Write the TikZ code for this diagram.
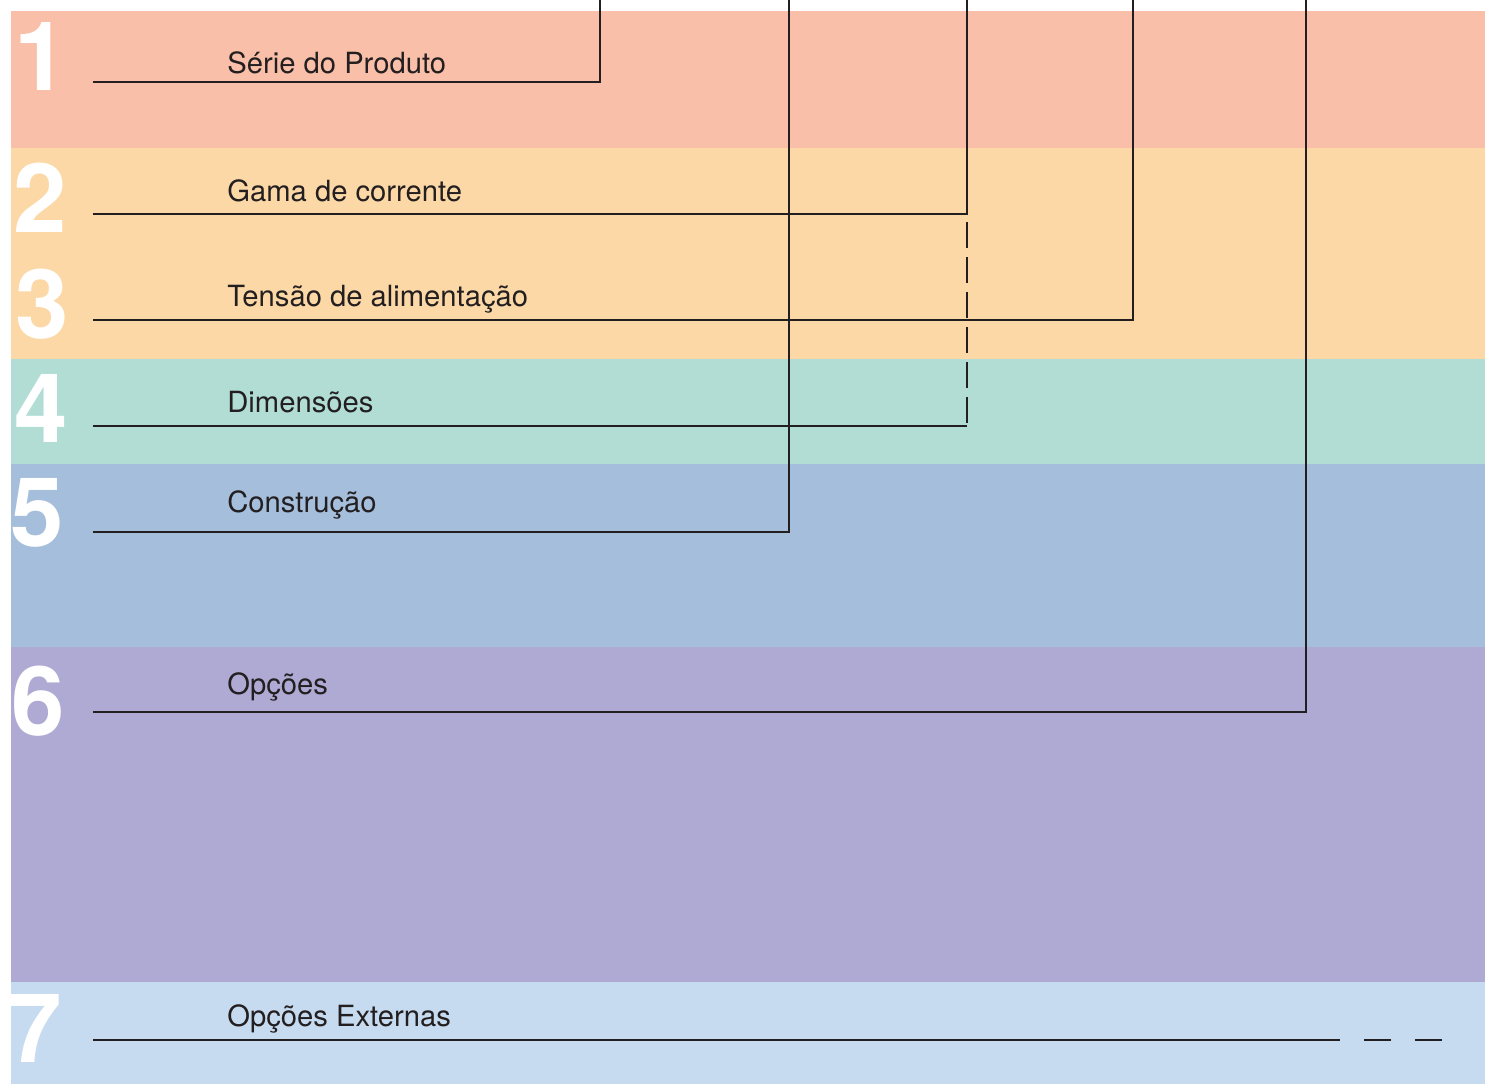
\documentclass[tikz,border=0pt]{standalone}
\usepackage{fontspec}
\setmainfont{TeX Gyre Heros}
\usepackage{tikz}
\usetikzlibrary{positioning}
\usepackage{xcolor}
\definecolor{ink}{HTML}{231F20}
\definecolor{bandA}{HTML}{F9BFA8}
\definecolor{bandB}{HTML}{FDD8A7}
\definecolor{bandC}{HTML}{B1DDD5}
\definecolor{bandD}{HTML}{A4BEDC}
\definecolor{bandE}{HTML}{AFAAD3}
\definecolor{bandF}{HTML}{C6DBEF}

\begin{document}
\begin{tikzpicture}[x=0.5pt, y=-0.5pt]
    \tikzset{Number/.style={anchor=base, inner sep=0, text=white, font=\fontsize{48}{48}\selectfont\bfseries}};
    \tikzset{Label/.style={anchor=base west, inner sep=0, text=ink, font=\fontsize{14.6}{14.6}\selectfont}};
    \tikzset{Lead/.style={draw=ink, line width=1.3pt}};
    \tikzset{Hidden/.style={Lead, dash pattern=on 13pt off 4.5pt, dash phase=13.5pt}};

    \useasboundingbox (0,0) rectangle (1485,1084);
    \fill[bandA] (11,11) rectangle (1485,148);
    \fill[bandB] (11,148) rectangle (1485,359);
    \fill[bandC] (11,359) rectangle (1485,464);
    \fill[bandD] (11,464) rectangle (1485,647);
    \fill[bandE] (11,647) rectangle (1485,982);
    \fill[bandF] (11,982) rectangle (1485,1084);

    \node[Number](n1) at (41,90){1};
    \node[Number](n2) at (40,232){2};
    \node[Number](n3) at (42,338){3};
    \node[Number](n4) at (41,442){4};
    \node[Number](n5) at (37,546){5};
    \node[Number](n6) at (38,735){6};
    \node[Number](n7) at (35,1062){7};

    \node[Label](a) at (227,73){Série do Produto};
    \node[Label](b) at (227,201){Gama de corrente};
    \node[Label](c) at (227,306){Tensão de alimentação};
    \node[Label](d) at (227,412){Dimensões};
    \node[Label](e) at (227,512){Construção};
    \node[Label](f) at (227,694){Opções};
    \node[Label](g) at (227,1026){Opções Externas};

    \coordinate (sa) at (93,82);
    \coordinate (sb) at (93,214);
    \coordinate (sc) at (93,320);
    \coordinate (sd) at (93,426);
    \coordinate (se) at (93,532);
    \coordinate (sf) at (93,712);
    \coordinate (sg) at (93,1040);

    \coordinate (ta) at (600,0);
    \coordinate (tb) at (967,0);
    \coordinate (tc) at (1133,0);
    \coordinate (te) at (789,0);
    \coordinate (tf) at (1306,0);

    \coordinate (eb) at (967,214);
    \coordinate (ed) at (967,426);
    \coordinate (eg) at (1313,1040);
    \coordinate (fg) at (1442,1040);

    \draw[Lead] (sa) -| (ta);
    \draw[Lead] (sb) -| (tb);
    \draw[Lead] (sc) -| (tc);
    \draw[Lead] (sd) -- (ed);
    \draw[Hidden] (eb) -- (ed);
    \draw[Lead] (se) -| (te);
    \draw[Lead] (sf) -| (tf);
    \draw[Lead] (sg) -- (eg);
    \draw[Lead, dash pattern=on 13.5pt off 12pt] (eg) -- (fg);
\end{tikzpicture}
\end{document}
